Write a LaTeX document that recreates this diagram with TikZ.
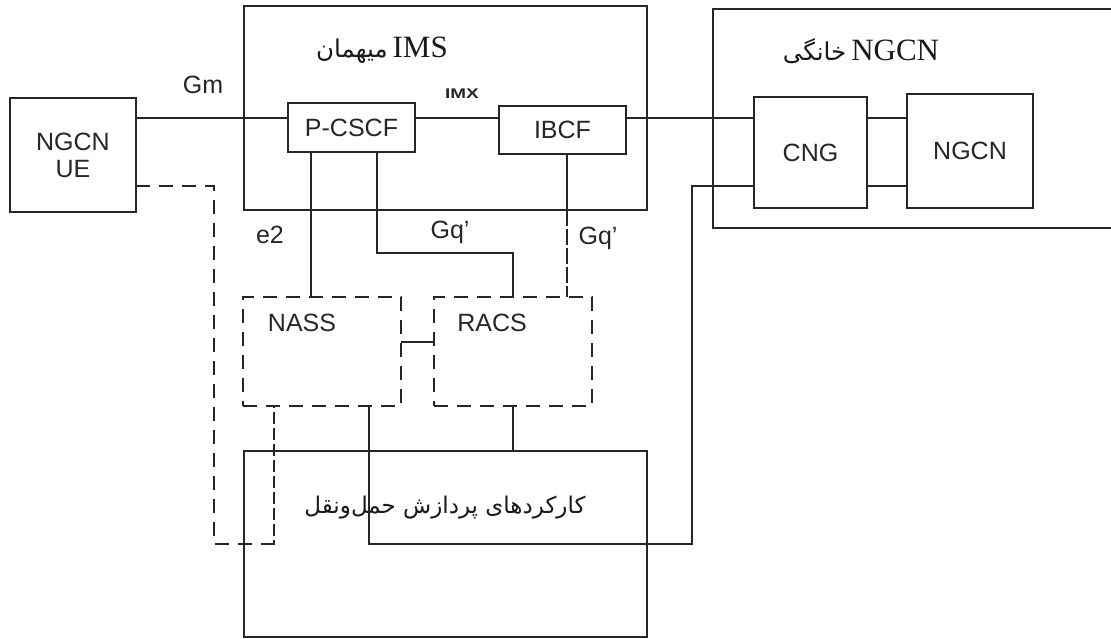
\documentclass[tikz,border=0pt]{standalone}
\usepackage{fontspec}
\setmainfont{Liberation Sans}
\newfontfamily\seriffont{Liberation Serif}
\newfontfamily\farsi[Script=Arabic]{DejaVu Sans}
\TeXXeTstate=1
\begin{document}
\begin{tikzpicture}[x=1pt,y=-1pt,
  ln/.style={line width=1.8pt,draw=black!85},
  box/.style={ln,anchor=north west,inner sep=0pt,outer sep=0pt,text=black!85,
     font=\fontsize{25}{28}\selectfont,align=center},
  dbox/.style={box,dash pattern=on 14pt off 9pt},
  lbl/.style={text=black!85,font=\fontsize{25}{28}\selectfont,inner sep=0pt},
  title/.style={text=black!90,inner sep=0pt}]
\useasboundingbox (0,0) rectangle (1111,639);
% containers
\node[box,minimum width=403pt,minimum height=204pt] (ims) at (244,6) {};
\node[box,draw=none,minimum width=400pt,minimum height=219pt] (home) at (713,9) {};
\draw[ln] (home.north east) ++(10,0) -- (home.north west) -- (home.south west) -- ++(410,0);
\node[box,minimum width=403pt,minimum height=186pt] (bearer) at (244,451) {};
% boxes
\node[box,minimum width=126pt,minimum height=114pt] (ue) at (10,98) {NGCN\\[-1pt]UE};
\node[box,minimum width=127pt,minimum height=49pt] (pcscf) at (288,103) {P-CSCF};
\node[box,minimum width=127pt,minimum height=48pt] (ibcf) at (499,106) {IBCF};
\node[box,minimum width=113pt,minimum height=111pt] (cng) at (754,97) {CNG};
\node[box,minimum width=126pt,minimum height=114pt] (ngcn) at (907,94) {NGCN};
\node[dbox,minimum width=158pt,minimum height=109pt] (nass) at (243,297) {};
\node[dbox,minimum width=158pt,minimum height=109pt] (racs) at (434,297) {};
\node[lbl] (nasst) at (302,323) {NASS};
\node[lbl] (racst) at (492,323) {RACS};
% titles
\node[title] (imst) at (382,50) {{\farsi\fontsize{24.5}{28}\selectfont\beginR میهمان\endR}\hspace{5pt}{\seriffont\fontsize{31}{34}\selectfont IMS}};
\node[title] (homet) at (861,51) {{\farsi\fontsize{24.5}{28}\selectfont\beginR خانگی\endR}\hspace{5pt}{\seriffont\fontsize{31}{34}\selectfont NGCN}};
\node[title] (bt) at (445,508) {\farsi\fontsize{23}{28}\selectfont\beginR کارکردهای پردازش حمل‌ونقل\endR};
% labels
\node[lbl] (gm) at (203,85) {Gm};
\node[lbl,font=\bfseries\fontsize{14}{16}\selectfont] (mx) at (462,94) {\scalebox{1.35}[1]{IMX}};
\node[lbl] (e2) at (270,235) {e2};
\node[lbl] (gq1) at (450,232) {Gq'};
\node[lbl] (gq2) at (598,238) {Gq'};
% connectors
\draw[ln] (ue.east |- 0,118) -- (pcscf.west |- 0,118);
\draw[ln] (pcscf.east |- 0,118) -- (ibcf.west |- 0,118);
\draw[ln] (ibcf.east |- 0,118) -- (cng.west |- 0,118);
\draw[ln] (cng.east |- 0,118) -- (ngcn.west |- 0,118);
\draw[ln] (cng.east |- 0,186) -- (ngcn.west |- 0,186);
\draw[ln] (pcscf.south -| 311,0) -- (nass.north -| 311,0);
\draw[ln] (pcscf.south -| 377,0) -- (377,253) -- (513,253) -- (racs.north -| 513,0);
\draw[ln] (ibcf.south -| 567,0) -- (ims.south -| 567,0);
\draw[ln,dash pattern=on 16pt off 3pt] (ims.south -| 567,0) -- (racs.north -| 567,0);
\draw[ln] (nass.east |- 0,342) -- (racs.west |- 0,342);
\draw[ln] (racs.south -| 513,0) -- (bearer.north -| 513,0);
\draw[ln,line width=2.2pt] (nass.south -| 369,0) -- (369,544) -- (692,544) -- (692,186) -- (cng.west |- 0,186);
\draw[ln,dash pattern=on 14pt off 9pt] (ue.east |- 0,186) -- (214,186) -- (214,544) -- (266,544);
\draw[ln,line width=1.3pt,dash pattern=on 12pt off 4pt] (266,544) -- (274,544) -- (nass.south -| 274,0);
\end{tikzpicture}
\end{document}
